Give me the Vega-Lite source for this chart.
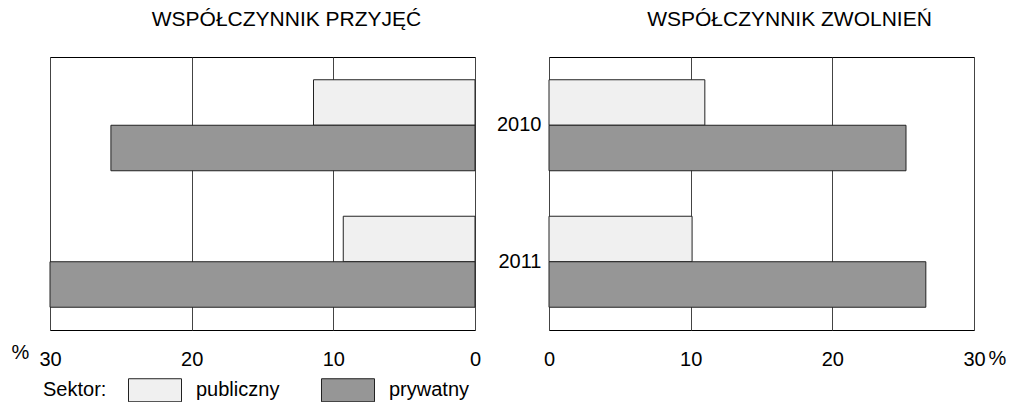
{
  "$schema": "https://vega.github.io/schema/vega-lite/v6.json",
  "autosize": {"type": "pad"},
  "padding": {"left": 10, "top": 8, "right": 0, "bottom": 0},
  "background": "white",
  "config": {
    "font": "Liberation Sans",
    "view": {"stroke": "#000000", "strokeWidth": 1},
    "concat": {"spacing": 74},
    "axis": {"labelFontSize": 20, "labelColor": "#000000", "titleFontSize": 20, "titleFontWeight": "normal", "titleColor": "#000000", "labelFont": "Liberation Sans", "titleFont": "Liberation Sans"},
    "title": {"fontSize": 21, "fontWeight": "normal", "color": "#000000", "font": "Liberation Sans"}
  },
  "bounds": "flush",
  "data": {
    "values": [
      {"panel": "przyjecia", "rok": "2010", "sektor": "publiczny", "wartosc": 11.4},
      {"panel": "przyjecia", "rok": "2010", "sektor": "prywatny", "wartosc": 25.7},
      {"panel": "przyjecia", "rok": "2011", "sektor": "publiczny", "wartosc": 9.3},
      {"panel": "przyjecia", "rok": "2011", "sektor": "prywatny", "wartosc": 30.0},
      {"panel": "zwolnienia", "rok": "2010", "sektor": "publiczny", "wartosc": 11.0},
      {"panel": "zwolnienia", "rok": "2010", "sektor": "prywatny", "wartosc": 25.2},
      {"panel": "zwolnienia", "rok": "2011", "sektor": "publiczny", "wartosc": 10.1},
      {"panel": "zwolnienia", "rok": "2011", "sektor": "prywatny", "wartosc": 26.6}
    ]
  },
  "hconcat": [
    {
      "width": 425,
      "height": 273,
      "title": {"text": "WSPÓŁCZYNNIK PRZYJĘĆ", "dx": 24, "offset": 10, "baseline": "alphabetic"},
      "transform": [{"filter": "datum.panel === 'przyjecia'"}],
      "mark": {"type": "bar", "stroke": "#222222", "strokeWidth": 1},
      "encoding": {
        "y": {"field": "rok", "type": "nominal", "scale": {"paddingInner": 0.3333, "paddingOuter": 0.1667}, "axis": null},
        "yOffset": {"field": "sektor", "type": "nominal", "sort": ["publiczny", "prywatny"], "scale": {"paddingInner": 0, "paddingOuter": 0}},
        "x": {"field": "wartosc", "type": "quantitative", "scale": {"domain": [0, 30], "reverse": true, "nice": false},
          "axis": {"values": [0, 10, 20, 30], "ticks": false, "domain": false, "grid": true, "gridColor": "#444444", "gridOpacity": 1, "labelPadding": 19, "labelFlush": false, "labelOverlap": false, "title": "%", "titleX": -30, "titleY": 28, "titleAlign": "center", "titleBaseline": "alphabetic"}},
        "color": {"field": "sektor", "type": "nominal", "sort": ["publiczny", "prywatny"], "scale": {"domain": ["publiczny", "prywatny"], "range": ["#f0f0f0", "#969696"]},
          "legend": {"title": "Sektor:", "orient": "none", "legendX": -7, "legendY": 306, "direction": "horizontal", "titleOrient": "left", "titleAnchor": "end", "titleBaseline": "line-bottom", "titleLineHeight": 27, "titleFontSize": 20, "titleFontWeight": "normal", "titleColor": "#000000", "titlePadding": 21, "labelFontSize": 20, "labelColor": "#000000", "labelOffset": 14, "columnPadding": 39, "symbolType": "M-1,-0.434H1V0.434H-1Z", "symbolSize": 2809, "symbolStrokeColor": "#222222", "symbolStrokeWidth": 1, "symbolOpacity": 1, "padding": 0}}
      }
    },
    {
      "width": 425,
      "height": 273,
      "title": {"text": "WSPÓŁCZYNNIK ZWOLNIEŃ", "dx": 28, "offset": 10, "baseline": "alphabetic"},
      "transform": [{"filter": "datum.panel === 'zwolnienia'"}],
      "mark": {"type": "bar", "stroke": "#222222", "strokeWidth": 1},
      "encoding": {
        "y": {"field": "rok", "type": "nominal", "scale": {"paddingInner": 0.3333, "paddingOuter": 0.1667}, "axis": {"title": null, "ticks": false, "domain": false, "labelPadding": 8, "labelAngle": 0}},
        "yOffset": {"field": "sektor", "type": "nominal", "sort": ["publiczny", "prywatny"], "scale": {"paddingInner": 0, "paddingOuter": 0}},
        "x": {"field": "wartosc", "type": "quantitative", "scale": {"domain": [0, 30], "nice": false},
          "axis": {"values": [0, 10, 20, 30], "ticks": false, "domain": false, "grid": true, "gridColor": "#444444", "gridOpacity": 1, "labelPadding": 19, "labelFlush": false, "labelOverlap": false, "title": "%", "titleX": 448, "titleY": 34, "titleAlign": "center", "titleBaseline": "alphabetic"}},
        "color": {"field": "sektor", "type": "nominal", "sort": ["publiczny", "prywatny"], "scale": {"domain": ["publiczny", "prywatny"], "range": ["#f0f0f0", "#969696"]}}
      }
    }
  ]
}
